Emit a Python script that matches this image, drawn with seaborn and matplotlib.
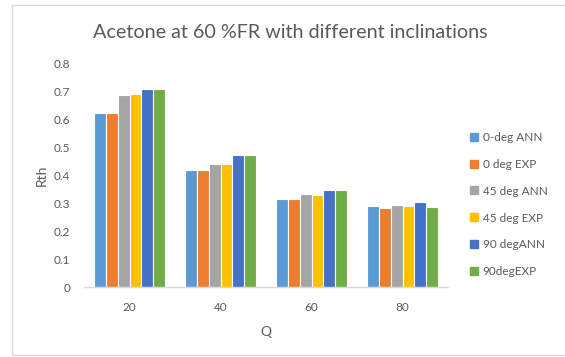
import matplotlib
matplotlib.use("Agg")
import matplotlib.pyplot as plt
import seaborn as sns
import pandas as pd
from matplotlib.lines import Line2D

# Flow rate categories and thermal resistance per inclination
flow = ["20", "40", "60", "80"]
series = ["0-deg ANN", "0 deg EXP", "45 deg ANN", "45 deg EXP", "90 degANN", "90degEXP"]
deg0_ann = [0.623, 0.419, 0.313, 0.289]
deg0_exp = [0.623, 0.419, 0.313, 0.281]
deg45_ann = [0.685, 0.441, 0.333, 0.294]
deg45_exp = [0.688, 0.441, 0.330, 0.289]
deg90_ann = [0.706, 0.473, 0.347, 0.302]
deg90_exp = [0.706, 0.473, 0.347, 0.286]
colors = ["#5B9BD5", "#ED7D31", "#A5A5A5", "#FFC000", "#4472C4", "#70AD47"]
yticks = [0, 0.1, 0.2, 0.3, 0.4, 0.5, 0.6, 0.7, 0.8]

values = [deg0_ann, deg0_exp, deg45_ann, deg45_exp, deg90_ann, deg90_exp]
rows = []
for name, vals in zip(series, values):
    for q, v in zip(flow, vals):
        rows.append({"Q": q, "Rth": v, "series": name})
df = pd.DataFrame(rows)

sns.set_theme(style="white")
plt.rcParams["font.family"] = ["Lato", "DejaVu Sans"]
text_color = "#595959"

fig = plt.figure(figsize=(5.65, 3.57), dpi=100)
ax = fig.add_axes([84 / 565, 70 / 357, 364 / 565, 224 / 357])

sns.barplot(data=df, x="Q", y="Rth", hue="series", order=flow, hue_order=series,
            palette=colors, width=0.79, edgecolor="white", linewidth=0.8,
            saturation=1, ax=ax, legend=False)

ax.set_ylim(0, 0.8)
ax.set_xlim(-0.5, len(flow) - 0.5)
ax.set_yticks(yticks)
ax.set_yticklabels(["0" if t == 0 else f"{t:.1f}" for t in yticks])
ax.tick_params(axis="both", length=0, labelsize=8.5, labelcolor=text_color)
ax.tick_params(axis="y", pad=10)
ax.tick_params(axis="x", pad=11)
for side in ["left", "right", "top"]:
    ax.spines[side].set_visible(False)
ax.spines["bottom"].set_color("#D9D9D9")
ax.spines["bottom"].set_linewidth(1)
ax.set_xlabel("Q", fontsize=10, color=text_color, labelpad=9)
ax.set_ylabel("Rth", fontsize=10, color=text_color, labelpad=4)

fig.text(290 / 565, 1 - 33 / 357, "Acetone at 60 %FR with different inclinations",
         ha="center", va="center", fontsize=14.2, color=text_color)

handles = [Line2D([0], [0], marker="s", linestyle="none", markersize=5.5,
                  markerfacecolor=c, markeredgecolor=c) for c in colors]
fig.legend(handles, series, loc="upper left", bbox_to_anchor=(465 / 565, 1 - 127 / 357),
           frameon=False, fontsize=8.5, labelcolor=text_color, handlelength=0.8,
           handletextpad=0.3, labelspacing=1.35, borderaxespad=0)

# chart border
border = "#D9D9D9"
x0, y0, y1 = 12 / 565, 2 / 357, 1 - 5 / 357
fig.add_artist(Line2D([x0, x0], [y0, y1], color=border, lw=1, transform=fig.transFigure))
fig.add_artist(Line2D([x0, 1.0], [y1, y1], color=border, lw=1, transform=fig.transFigure))
fig.add_artist(Line2D([x0, 1.0], [y0, y0], color=border, lw=1, transform=fig.transFigure))

fig.savefig("out.png", dpi=100)
